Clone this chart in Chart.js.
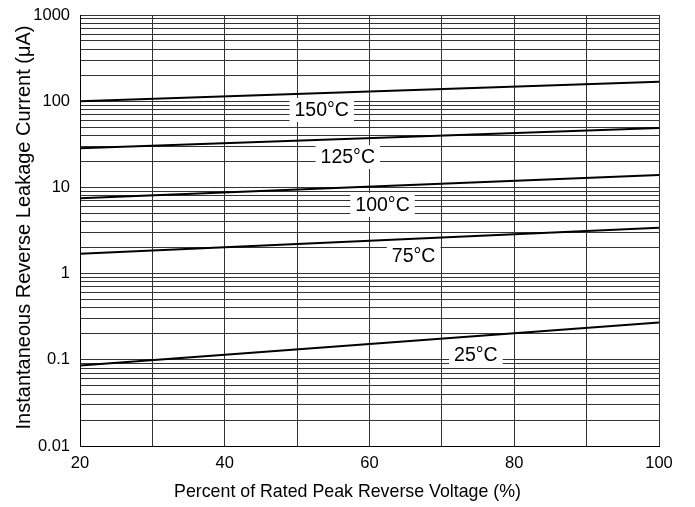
<!DOCTYPE html>
<html>
<head>
<meta charset="utf-8">
<script src="https://cdn.jsdelivr.net/npm/chart.js"></script>
<style>
  html, body { margin: 0; padding: 0; background: #fff; }
  #wrap { width: 695px; height: 507px; }
</style>
</head>
<body>
<div id="wrap"><canvas id="grafico" width="695" height="507"></canvas></div>
<script>
// dados (x = % da tensão reversa, y = µA)
const tensao = [20, 100];
const corrente150 = [100, 168];
const corrente125 = [28.5, 49];
const corrente100 = [7.5, 13.9];
const corrente75 = [1.7, 3.4];
const corrente25 = [0.086, 0.27];

const rotulos = ['150°C', '125°C', '100°C', '75°C', '25°C'];
const posRotulos = [[53.4, 79], [57.0, 22.5], [61.8, 6.25], [66.1, 1.6], [74.7, 0.114]];

const ticksX = [20, 30, 40, 50, 60, 70, 80, 90, 100];
const rotulosX = [20, 40, 60, 80, 100];
const decadas = [0.01, 0.1, 1, 10, 100, 1000];
const rotulosY = ['0.01', '0.1', '1', '10', '100', '1000'];

const tituloX = 'Percent of Rated Peak Reverse Voltage (%)';
const tituloY = 'Instantaneous Reverse Leakage Current (μA)';

// linhas de grade menores 1..9 por década
const ticksY = [];
decadas.forEach((d, i) => {
  if (i === decadas.length - 1) { ticksY.push(d); return; }
  for (let k = 1; k <= 9; k++) ticksY.push(+(d * k).toPrecision(3));
});

const fonte = 'Liberation Sans, Arial, sans-serif';

function serie(valores) {
  return {
    data: tensao.map((x, i) => ({ x: x, y: valores[i] })),
    borderColor: '#000',
    borderWidth: 2,
    pointRadius: 0,
    fill: false
  };
}

// rótulos com fundo branco sobre a grade + títulos dos eixos
const pluginRotulos = {
  id: 'rotulos',
  afterDatasetsDraw(chart) {
    const ctx = chart.ctx;
    const sx = chart.scales.x, sy = chart.scales.y;
    ctx.save();
    ctx.font = '19.5px ' + fonte;
    ctx.textAlign = 'center';
    ctx.textBaseline = 'middle';
    rotulos.forEach((txt, i) => {
      const px = sx.getPixelForValue(posRotulos[i][0]);
      const py = sy.getPixelForValue(posRotulos[i][1]);
      const w = ctx.measureText(txt).width;
      ctx.fillStyle = '#fff';
      ctx.fillRect(px - w / 2 - 5, py - 12, w + 10, 24);
      ctx.fillStyle = '#000';
      ctx.fillText(txt, px, py + 1);
    });

    // títulos
    ctx.fillStyle = '#000';
    ctx.font = '17.8px ' + fonte;
    ctx.fillText(tituloX, 347.5, 492);
    ctx.translate(24, 227.5);
    ctx.rotate(-Math.PI / 2);
    ctx.font = '20px ' + fonte;
    ctx.fillText(tituloY, 0, 0);
    ctx.restore();
  }
};

const ctx = document.getElementById('grafico').getContext('2d');
new Chart(ctx, {
  type: 'line',
  data: {
    datasets: [serie(corrente150), serie(corrente125), serie(corrente100), serie(corrente75), serie(corrente25)]
  },
  options: {
    responsive: false,
    animation: false,
    layout: { padding: { top: 15, right: 36, left: 0, bottom: 0 } },
    plugins: { legend: { display: false }, tooltip: { enabled: false } },
    scales: {
      x: {
        type: 'linear',
        min: 20,
        max: 100,
        afterBuildTicks: (scale) => { scale.ticks = ticksX.map(v => ({ value: v })); },
        afterFit: (scale) => { scale.height = 61; },
        grid: { color: '#333', lineWidth: 1, drawTicks: false },
        border: { color: '#000', width: 1 },
        ticks: {
          color: '#000',
          font: { family: fonte, size: 16.5 },
          padding: 8,
          maxRotation: 0,
          autoSkip: false,
          callback: (v) => rotulosX.includes(v) ? String(v) : ''
        }
      },
      y: {
        type: 'logarithmic',
        min: 0.01,
        max: 1000,
        afterBuildTicks: (scale) => { scale.ticks = ticksY.map(v => ({ value: v })); },
        afterFit: (scale) => {
          scale.width = 80;
          scale.paddingTop = 0;
          scale.paddingBottom = 0;
        },
        grid: { color: '#333', lineWidth: 1, drawTicks: false },
        border: { color: '#000', width: 1 },
        ticks: {
          color: '#000',
          font: { family: fonte, size: 16.5 },
          padding: 10,
          autoSkip: false,
          callback: (v) => {
            const i = decadas.findIndex(d => Math.abs(d - v) / d < 1e-6);
            return i >= 0 ? rotulosY[i] : '';
          }
        }
      }
    }
  },
  plugins: [pluginRotulos]
});
</script>
</body>
</html>
